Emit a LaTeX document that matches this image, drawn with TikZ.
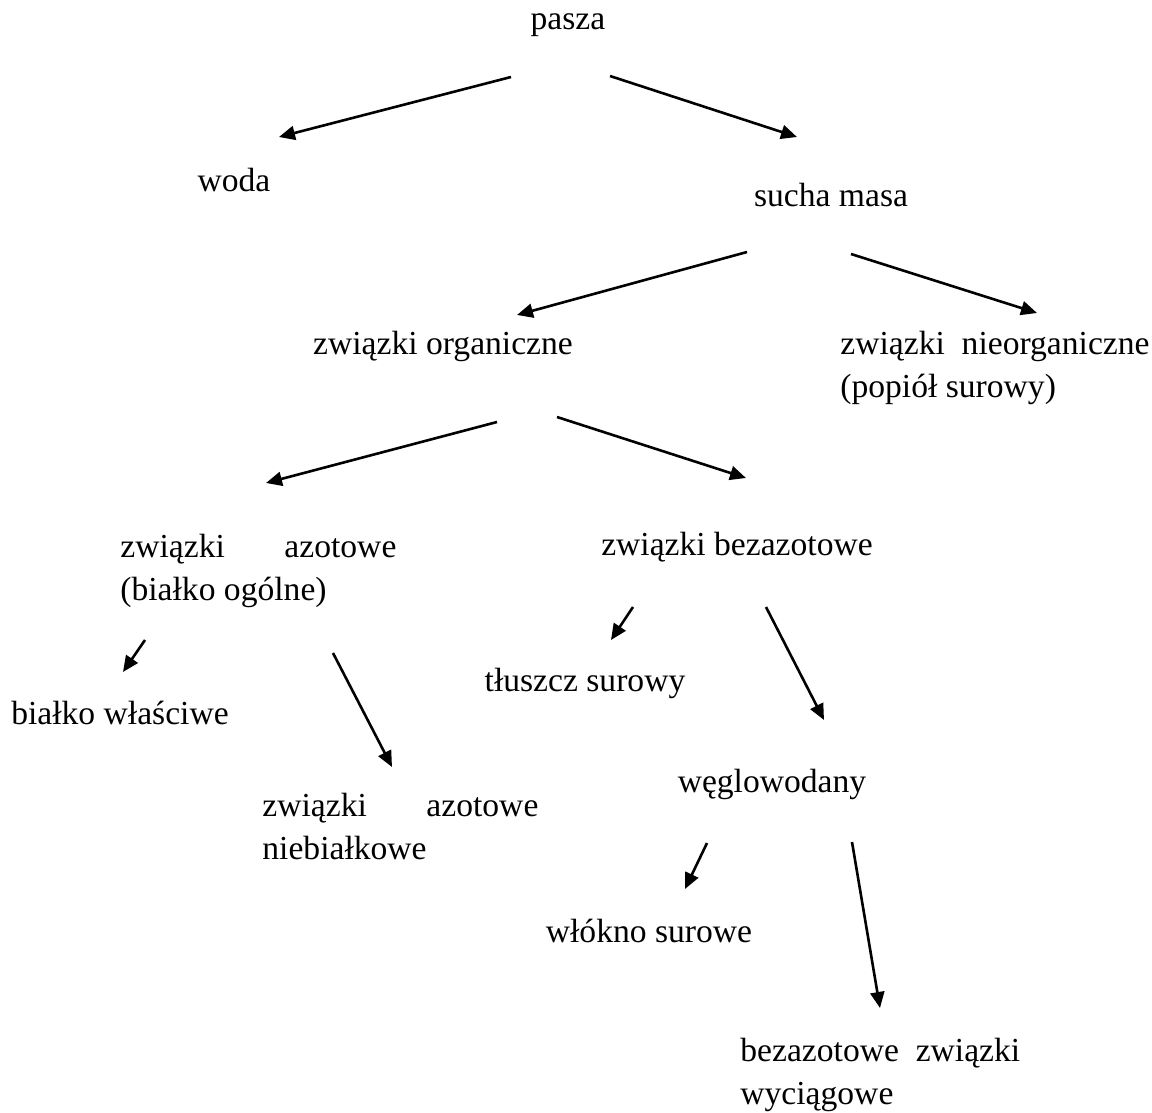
\documentclass[tikz,border=0pt]{standalone}
\usepackage{fontspec}
\setmainfont{Liberation Serif}
\usetikzlibrary{arrows.meta}

% linia wyjustowana (dwa wyrazy rozsuniete na cala szerokosc)
\newcommand{\justline}[2]{\hbox to 138pt{#1\hfill #2}}

\begin{document}
\begin{tikzpicture}[
    x=0.5pt, y=-0.5pt,  % wspolrzedne w pikselach obrazka
    font=\fontsize{16.8}{21.5}\selectfont,
    arr/.style={-{Triangle[length=8pt,width=7pt]}, line width=1.3pt},
    txt/.style={inner sep=0pt, anchor=mid},
    txtblock/.style={inner sep=0pt, anchor=mid west},
]
\useasboundingbox (0,0) rectangle (1152,1113);

% --- Wezly ---
\node[txt] (pasza) at (568,25) {pasza};
\node[txt] (woda) at (234,187) {woda};
\node[txt] (sucha) at (831,202) {sucha masa};
\node[txt] (organiczne) at (443,350) {związki organiczne};
\node[txtblock] (nieorganiczne) at (840,350)
    {\begin{tabular}[t]{@{}l@{}}związki\ \ nieorganiczne\\(popiół surowy)\end{tabular}};
\node[txtblock] (azotowe) at (120,553)
    {\begin{tabular}[t]{@{}l@{}}\justline{związki}{azotowe}\\(białko ogólne)\end{tabular}};
\node[txt] (bezazotowe) at (737,551) {związki bezazotowe};
\node[txt] (wlasciwe) at (120,720) {białko właściwe};
\node[txt] (tluszcz) at (585,687) {tłuszcz surowy};
\node[txtblock] (niebialkowe) at (262,812)
    {\begin{tabular}[t]{@{}l@{}}\justline{związki}{azotowe}\\niebiałkowe\end{tabular}};
\node[txt] (weglowodany) at (772,788) {węglowodany};
\node[txt] (wlokno) at (649,938) {włókno surowe};
\node[txtblock] (wyciagowe) at (740,1057)
    {\begin{tabular}[t]{@{}l@{}}bezazotowe\ \ związki\\wyciągowe\end{tabular}};

% --- Konce strzalek ---
\coordinate (pasza-l) at (511,77);   \coordinate (woda-n) at (279,137);
\coordinate (pasza-r) at (610,76);   \coordinate (sucha-n) at (797,137);
\coordinate (sucha-l) at (747,252);  \coordinate (organiczne-n) at (517,315);
\coordinate (sucha-r) at (851,254);  \coordinate (nieorganiczne-n) at (1037,313);
\coordinate (organiczne-l) at (497,422); \coordinate (azotowe-n) at (266,483);
\coordinate (organiczne-r) at (557,417); \coordinate (bezazotowe-n) at (746,478);
\coordinate (azotowe-l) at (145,640); \coordinate (wlasciwe-n) at (123,672);
\coordinate (azotowe-r) at (333,653); \coordinate (niebialkowe-n) at (392,767);
\coordinate (bezazotowe-l) at (633,607); \coordinate (tluszcz-n) at (611,640);
\coordinate (bezazotowe-r) at (766,607); \coordinate (weglowodany-n) at (824,720);
\coordinate (weglowodany-l) at (707,843); \coordinate (wlokno-n) at (685,889);
\coordinate (weglowodany-r) at (852,842); \coordinate (wyciagowe-n) at (880,1008);

% --- Strzalki ---
\draw[arr] (pasza-l) -- (woda-n);
\draw[arr] (pasza-r) -- (sucha-n);
\draw[arr] (sucha-l) -- (organiczne-n);
\draw[arr] (sucha-r) -- (nieorganiczne-n);
\draw[arr] (organiczne-l) -- (azotowe-n);
\draw[arr] (organiczne-r) -- (bezazotowe-n);
\draw[arr] (azotowe-l) -- (wlasciwe-n);
\draw[arr] (azotowe-r) -- (niebialkowe-n);
\draw[arr] (bezazotowe-l) -- (tluszcz-n);
\draw[arr] (bezazotowe-r) -- (weglowodany-n);
\draw[arr] (weglowodany-l) -- (wlokno-n);
\draw[arr] (weglowodany-r) -- (wyciagowe-n);

\end{tikzpicture}
\end{document}
